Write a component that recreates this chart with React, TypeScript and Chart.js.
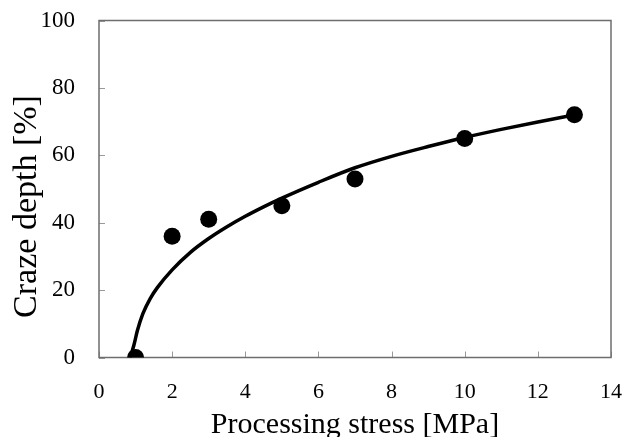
import React, { useEffect, useRef } from "react";
import { Chart, registerables } from "chart.js";

Chart.register(...registerables);

// Measured points
const measuredStress = [1, 2, 3, 5, 7, 10, 13];
const measuredDepth = [0, 36, 41, 45, 53, 65, 72];

// Fitted curve
const fitStress = [0.85, 0.95, 1.05, 1.2, 1.4, 1.6, 2, 2.5, 3, 3.5, 4, 4.5, 5, 6, 7, 8, 9, 10, 11, 12, 13];
const fitDepth = [0, 3.5, 8, 13, 17.5, 20.8, 26, 31.2, 35.3, 38.8, 41.9, 44.7, 47.3, 52, 56.3, 59.7, 62.6, 65.3, 67.7, 69.9, 72];

const xTicks = [0, 2, 4, 6, 8, 10, 12, 14];
const yTicks = [0, 20, 40, 60, 80, 100];

const xTitle = "Processing stress [MPa]";
const yTitle = "Craze depth [%]";

const SERIF = "'Liberation Serif', 'Times New Roman', serif";

const framePlugin = {
  id: "frameAndTicks",
  beforeDatasetsDraw(chart: any) {
    const { ctx, chartArea, scales } = chart;
    const { left, right, top, bottom } = chartArea;
    ctx.save();
    // inner tick marks
    ctx.strokeStyle = "#9a9a9a";
    ctx.lineWidth = 1;
    ctx.beginPath();
    xTicks.forEach((v) => {
      const px = Math.round(scales.x.getPixelForValue(v)) + 0.5;
      ctx.moveTo(px, bottom);
      ctx.lineTo(px, bottom - 6);
    });
    yTicks.forEach((v) => {
      const py = Math.round(scales.y.getPixelForValue(v)) + 0.5;
      ctx.moveTo(left, py);
      ctx.lineTo(left + 6, py);
    });
    ctx.stroke();
    // frame
    ctx.strokeStyle = "#6e6e6e";
    ctx.lineWidth = 1.5;
    ctx.strokeRect(left, top, right - left, bottom - top);
    ctx.restore();
  },
  afterDraw(chart: any) {
    const { ctx, chartArea } = chart;
    ctx.save();
    ctx.fillStyle = "#000";
    ctx.textBaseline = "alphabetic";
    ctx.textAlign = "center";
    ctx.font = `30px ${SERIF}`;
    ctx.fillText(xTitle, (chartArea.left + chartArea.right) / 2, 433);
    ctx.translate(36, 206.5);
    ctx.rotate(-Math.PI / 2);
    ctx.font = `34px ${SERIF}`;
    ctx.fillText(yTitle, 0, 0);
    ctx.restore();
  },
};

const zeroPad = (s: any) => {
  s.paddingLeft = 0;
  s.paddingRight = 0;
  s.paddingTop = 0;
  s.paddingBottom = 0;
};

export default function App() {
  const canvasRef = useRef<HTMLCanvasElement | null>(null);

  useEffect(() => {
    if (!canvasRef.current) return;
    const chart = new Chart(canvasRef.current, {
      type: "scatter",
      data: {
        datasets: [
          {
            label: "Measured",
            data: measuredStress.map((x, i) => ({ x, y: measuredDepth[i] })),
            backgroundColor: "#000",
            borderColor: "#000",
            pointRadius: 8.5,
            pointBorderWidth: 0,
            showLine: false,
          },
          {
            label: "Fit",
            data: fitStress.map((x, i) => ({ x, y: fitDepth[i] })),
            borderColor: "#000",
            borderWidth: 3.5,
            pointRadius: 0,
            showLine: true,
            tension: 0.4,
            cubicInterpolationMode: "monotone",
            fill: false,
          } as any,
        ],
      },
      options: {
        responsive: false,
        animation: false,
        devicePixelRatio: 1,
        layout: { padding: { top: 20.5, right: 14, left: 0, bottom: 0 } },
        plugins: { legend: { display: false }, tooltip: { enabled: false } },
        scales: {
          x: {
            type: "linear",
            min: 0,
            max: 14,
            afterBuildTicks: (s: any) => {
              s.ticks = xTicks.map((v) => ({ value: v }));
            },
            ticks: {
              font: { family: SERIF, size: 22 },
              color: "#000",
              padding: 14,
              maxRotation: 0,
            },
            grid: { display: false },
            border: { display: false },
            afterFit: (s: any) => {
              s.height = 79.5;
              zeroPad(s);
            },
          },
          y: {
            type: "linear",
            min: 0,
            max: 100,
            afterBuildTicks: (s: any) => {
              s.ticks = yTicks.map((v) => ({ value: v }));
            },
            ticks: {
              font: { family: SERIF, size: 23 },
              color: "#000",
              padding: 16,
            },
            grid: { display: false },
            border: { display: false },
            afterFit: (s: any) => {
              s.width = 99;
              zeroPad(s);
            },
          },
        },
      },
      plugins: [framePlugin],
    });
    return () => chart.destroy();
  }, []);

  return (
    <div style={{ position: "absolute", left: 0, top: 0, width: 625, height: 437, background: "#fff" }}>
      <canvas ref={canvasRef} width={625} height={437} style={{ display: "block" }} />
    </div>
  );
}
